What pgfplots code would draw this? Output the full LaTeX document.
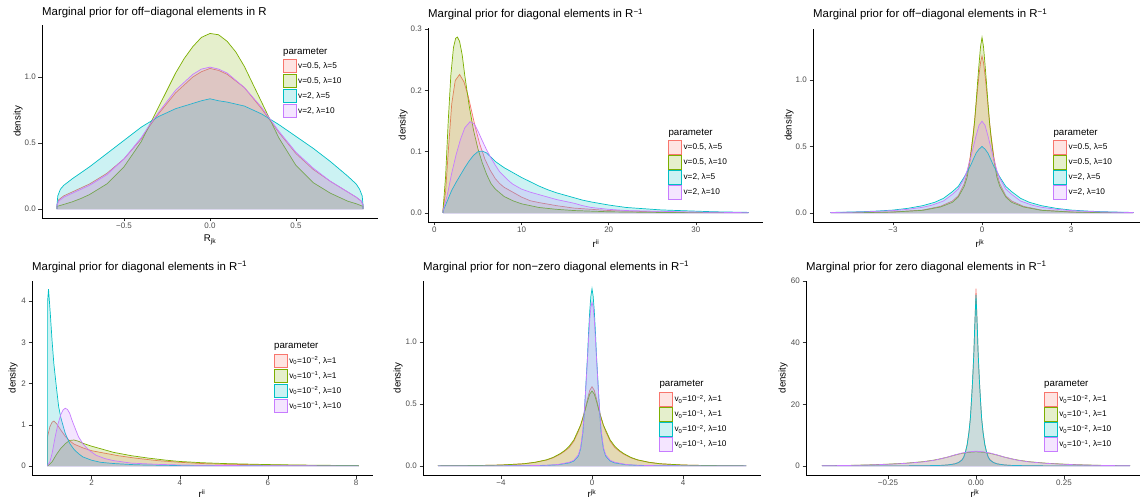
\documentclass[border=0pt]{standalone}
\usepackage{fontspec}
\setmainfont{Liberation Sans}
\usepackage{pgfplots}
\usepackage{pgfplotstable}
\pgfplotsset{compat=1.18}
\definecolor{cR}{HTML}{F8766D}
\definecolor{cG}{HTML}{7CAE00}
\definecolor{cC}{HTML}{00BFC4}
\definecolor{cP}{HTML}{C77CFF}
\definecolor{basecol}{HTML}{DCD8EE}
\definecolor{tickgray}{HTML}{4D4D4D}
\definecolor{tickdark}{HTML}{333333}
\newcommand{\ttl}{\fontsize{11.4}{13}\selectfont}
\newcommand{\lab}{\fontsize{9.7}{11}\selectfont}
\pgfplotsset{
  gg/.style={
    scale only axis, anchor=south west,
    axis lines*=left,
    axis line style={black, line width=0.6pt},
    every tick/.style={tickdark, line width=0.5pt},
    tick align=outside, major tick length=3.5pt,
    tick label style={font=\fontsize{8}{9}\selectfont, text=tickgray},
    xticklabel style={anchor=north, inner sep=1pt},
    yticklabel style={anchor=east, inner sep=2.5pt},
    legend style={draw=none, fill=none, inner sep=0pt, outer sep=0pt, anchor=north west,
      font=\fontsize{8.3}{10}\selectfont, column sep=1.5pt, row sep=0pt,
      nodes={inner sep=0pt, minimum height=15pt}},
    legend cell align=left,
    legend image code/.code={\draw[##1, line width=0.7pt] (0.7pt,-6.8pt) rectangle (13.8pt,6.8pt);},
  },
  d/.style={line width=0.7pt, fill opacity=0.2, draw=#1, fill=#1},
}
\newcommand{\dens}[2]{%
  \addplot[fill=#1, fill opacity=0.2, draw=none, forget plot] table[x=x,y=y] {#2} \closedcycle;
  \addplot[draw=#1, line width=0.7pt, forget plot] table[x=x,y=y] {#2};
}
% ---------- Panel A: off-diagonal elements in R
\pgfplotstableread{
x y
-0.89 0
-0.89 0.03
-0.88 0.07
-0.85 0.1
-0.8 0.13
-0.75 0.16
-0.7 0.19
-0.6 0.27
-0.5 0.38
-0.4 0.53
-0.35 0.63
-0.3 0.72
-0.2 0.88
-0.1 1.0
-0.05 1.04
0 1.065
0.05 1.05
0.1 1.02
0.2 0.92
0.3 0.76
0.35 0.67
0.4 0.58
0.5 0.42
0.6 0.3
0.7 0.21
0.75 0.17
0.8 0.13
0.85 0.09
0.88 0.06
0.89 0.03
0.89 0
}\Ar
\pgfplotstableread{
x y
-0.89 0
-0.89 0.02
-0.85 0.035
-0.8 0.055
-0.75 0.08
-0.7 0.11
-0.6 0.19
-0.5 0.32
-0.4 0.51
-0.3 0.77
-0.2 1.03
-0.15 1.14
-0.1 1.23
-0.05 1.3
0 1.33
0.05 1.32
0.1 1.27
0.15 1.19
0.2 1.08
0.3 0.81
0.4 0.54
0.5 0.33
0.6 0.2
0.7 0.12
0.75 0.09
0.8 0.06
0.85 0.04
0.89 0.02
0.89 0
}\Ag
\pgfplotstableread{
x y
-0.89 0
-0.89 0.03
-0.885 0.1
-0.87 0.15
-0.85 0.18
-0.8 0.23
-0.7 0.32
-0.6 0.42
-0.5 0.52
-0.4 0.62
-0.3 0.7
-0.2 0.76
-0.1 0.8
-0.05 0.82
0 0.835
0.05 0.82
0.1 0.81
0.2 0.78
0.3 0.72
0.4 0.64
0.5 0.55
0.6 0.46
0.7 0.36
0.8 0.25
0.85 0.19
0.87 0.15
0.885 0.1
0.89 0.03
0.89 0
}\Ac
\pgfplotstableread{
x y
-0.89 0
-0.89 0.03
-0.88 0.06
-0.85 0.09
-0.8 0.12
-0.75 0.15
-0.7 0.18
-0.6 0.26
-0.5 0.38
-0.4 0.54
-0.35 0.64
-0.3 0.73
-0.2 0.9
-0.1 1.02
-0.05 1.06
0 1.075
0.05 1.06
0.1 1.03
0.2 0.92
0.3 0.77
0.35 0.68
0.4 0.59
0.5 0.43
0.6 0.31
0.7 0.21
0.75 0.17
0.8 0.13
0.85 0.09
0.88 0.06
0.89 0.03
0.89 0
}\Ap
% ---------- Panel B: diagonal elements in R^-1
\pgfplotstableread{
x y
1.0 0
1.0 0.004
1.3 0.035
1.6 0.1
2.0 0.178
2.4 0.216
2.9 0.226
3.4 0.214
3.9 0.19
4.3 0.165
4.7 0.14
5.2 0.113
5.8 0.088
6.4 0.07
7.0 0.056
7.5 0.048
8.0 0.042
9.0 0.034
10 0.026
11 0.02
12 0.017
14 0.012
16 0.008
18 0.006
20 0.004
25 0.002
30 0.001
36 0.0005
36 0
}\Br
\pgfplotstableread{
x y
1.0 0
1.0 0.005
1.3 0.06
1.6 0.15
1.9 0.225
2.2 0.27
2.45 0.285
2.65 0.287
2.9 0.28
3.2 0.258
3.5 0.224
4.0 0.175
4.5 0.135
5.0 0.105
5.5 0.082
6.0 0.063
6.5 0.048
7.0 0.039
7.5 0.033
8.0 0.027
9.0 0.02
10 0.015
11 0.012
12 0.009
14 0.006
16 0.004
20 0.002
25 0.001
30 0.0005
36 0.0002
36 0
}\Bg
\pgfplotstableread{
x y
1.0 0
1.0 0.003
1.5 0.02
2.0 0.037
2.5 0.05
3.0 0.062
3.5 0.074
4.0 0.085
4.5 0.094
5.0 0.1
5.5 0.101
6.0 0.098
6.5 0.091
7.0 0.084
7.5 0.079
8.0 0.074
9.0 0.066
10 0.058
11 0.051
12 0.044
13 0.038
14 0.033
15 0.029
16 0.025
17 0.021
18 0.018
20 0.013
22 0.009
24 0.007
26 0.005
28 0.004
30 0.003
32 0.002
34 0.0015
36 0.001
36 0
}\Bc
\pgfplotstableread{
x y
1.0 0
1.0 0.003
1.5 0.03
2.0 0.065
2.5 0.095
3.0 0.12
3.5 0.139
4.1 0.149
4.6 0.145
5.0 0.134
5.5 0.118
6.0 0.103
6.5 0.09
7.0 0.078
7.5 0.067
8.0 0.06
8.5 0.053
9.0 0.047
10 0.039
11 0.034
12 0.03
13 0.026
14 0.022
15 0.019
16 0.016
17 0.012
18 0.009
20 0.006
22 0.004
25 0.003
30 0.0015
36 0.0005
36 0
}\Bp
% ---------- Panel C: off-diagonal elements in R^-1
\pgfplotstableread{
x y
-5.1 0
-5.1 0.001
-4 0.004
-3 0.008
-2 0.022
-1.4 0.05
-1 0.09
-0.8 0.13
-0.6 0.22
-0.5 0.3
-0.4 0.42
-0.3 0.59
-0.25 0.69
-0.2 0.81
-0.15 0.93
-0.1 1.04
-0.05 1.13
0 1.18
0.05 1.13
0.1 1.04
0.15 0.93
0.2 0.81
0.25 0.69
0.3 0.59
0.4 0.42
0.5 0.3
0.6 0.22
0.8 0.13
1 0.09
1.4 0.05
2 0.022
3 0.008
4 0.004
5.1 0.001
5.1 0
}\Cr
\pgfplotstableread{
x y
-5.1 0
-5.1 0.001
-4 0.003
-3 0.007
-2 0.02
-1.4 0.045
-1 0.08
-0.8 0.12
-0.6 0.2
-0.5 0.27
-0.4 0.4
-0.3 0.58
-0.25 0.69
-0.2 0.83
-0.15 0.98
-0.1 1.12
-0.05 1.25
0 1.32
0.05 1.25
0.1 1.12
0.15 0.98
0.2 0.83
0.25 0.69
0.3 0.58
0.4 0.4
0.5 0.27
0.6 0.2
0.8 0.12
1 0.08
1.4 0.045
2 0.02
3 0.007
4 0.003
5.1 0.001
5.1 0
}\Cg
\pgfplotstableread{
x y
-5.1 0
-5.1 0.004
-4.5 0.007
-4 0.01
-3.5 0.015
-3 0.022
-2.5 0.035
-2 0.055
-1.6 0.08
-1.3 0.11
-1 0.16
-0.8 0.2
-0.6 0.27
-0.5 0.31
-0.4 0.35
-0.3 0.4
-0.2 0.45
-0.1 0.48
0 0.5
0.1 0.48
0.2 0.45
0.3 0.4
0.4 0.35
0.5 0.31
0.6 0.27
0.8 0.2
1 0.16
1.3 0.11
1.6 0.08
2 0.055
2.5 0.035
3 0.022
3.5 0.015
4 0.01
4.5 0.007
5.1 0.004
5.1 0
}\Cc
\pgfplotstableread{
x y
-5.1 0
-5.1 0.003
-4 0.008
-3 0.018
-2.5 0.028
-2 0.043
-1.7 0.058
-1.3 0.09
-1 0.14
-0.8 0.18
-0.6 0.26
-0.5 0.32
-0.4 0.4
-0.3 0.49
-0.2 0.58
-0.1 0.66
0 0.69
0.1 0.66
0.2 0.58
0.3 0.49
0.4 0.4
0.5 0.32
0.6 0.26
0.8 0.18
1 0.14
1.3 0.09
1.7 0.058
2 0.043
2.5 0.028
3 0.018
4 0.008
5.1 0.003
5.1 0
}\Cp
% ---------- Panel D: diagonal elements in R^-1 (v0, lambda)
\pgfplotstableread{
x y
1.0 0
1.0 0.72
1.05 0.95
1.1 1.06
1.14 1.09
1.2 1.03
1.25 0.95
1.3 0.87
1.4 0.72
1.5 0.61
1.6 0.53
1.8 0.44
2.0 0.37
2.3 0.31
2.6 0.25
3.0 0.19
3.5 0.13
4.0 0.09
4.5 0.06
5 0.045
6 0.025
7 0.015
8.05 0.01
8.05 0
}\Dr
\pgfplotstableread{
x y
1.0 0
1.1 0.1
1.2 0.28
1.3 0.43
1.4 0.54
1.5 0.62
1.6 0.63
1.7 0.6
1.8 0.55
2.0 0.48
2.2 0.42
2.5 0.33
2.9 0.25
3.3 0.19
3.7 0.14
4.0 0.11
4.5 0.08
5 0.06
6 0.035
7 0.02
8.05 0.01
8.05 0
}\Dg
\pgfplotstableread{
x y
1.0 0
1.0 4.0
1.02 4.29
1.06 3.7
1.1 3.05
1.14 2.49
1.2 1.9
1.25 1.44
1.3 1.17
1.4 0.79
1.5 0.55
1.6 0.4
1.7 0.3
1.8 0.22
2.0 0.14
2.2 0.09
2.5 0.06
3 0.03
4 0.01
5 0.005
8.05 0.001
8.05 0
}\Dc
\pgfplotstableread{
x y
1.0 0
1.0 0.02
1.05 0.1
1.1 0.3
1.17 0.7
1.23 1.0
1.3 1.25
1.35 1.36
1.4 1.40
1.45 1.37
1.5 1.28
1.55 1.12
1.6 0.98
1.7 0.71
1.8 0.54
1.93 0.39
2.1 0.26
2.3 0.18
2.5 0.13
2.9 0.07
3.5 0.04
4 0.025
5 0.012
6 0.006
8.05 0.002
8.05 0
}\Dp
% ---------- Panel E: non-zero elements
\pgfplotstableread{
x y
-6.77 0
-6.77 0.001
-5 0.004
-4 0.008
-3 0.018
-2.5 0.03
-2 0.048
-1.7 0.067
-1.4 0.095
-1.2 0.12
-1 0.15
-0.8 0.2
-0.6 0.28
-0.5 0.33
-0.4 0.39
-0.3 0.46
-0.2 0.54
-0.1 0.61
0 0.64
0.1 0.61
0.2 0.54
0.3 0.46
0.4 0.39
0.5 0.33
0.6 0.28
0.8 0.2
1 0.15
1.2 0.12
1.4 0.095
1.7 0.067
2 0.048
2.5 0.03
3 0.018
4 0.008
5 0.004
6.77 0.001
6.77 0
}\Er
\pgfplotstableread{
x y
-6.77 0
-6.77 0.001
-5 0.004
-4 0.008
-3 0.018
-2.5 0.03
-2 0.05
-1.7 0.07
-1.4 0.1
-1.2 0.125
-1 0.16
-0.8 0.21
-0.6 0.29
-0.5 0.33
-0.4 0.39
-0.3 0.45
-0.2 0.52
-0.1 0.58
0 0.605
0.1 0.58
0.2 0.52
0.3 0.45
0.4 0.39
0.5 0.33
0.6 0.29
0.8 0.21
1 0.16
1.2 0.125
1.4 0.1
1.7 0.07
2 0.05
2.5 0.03
3 0.018
4 0.008
5 0.004
6.77 0.001
6.77 0
}\Eg
\pgfplotstableread{
x y
-6.77 0
-4 0.001
-3 0.002
-2 0.005
-1.5 0.01
-1 0.025
-0.8 0.04
-0.6 0.08
-0.5 0.14
-0.4 0.27
-0.35 0.4
-0.3 0.55
-0.25 0.72
-0.2 0.88
-0.15 1.08
-0.1 1.25
-0.05 1.37
0 1.43
0.05 1.37
0.1 1.25
0.15 1.08
0.2 0.88
0.25 0.72
0.3 0.55
0.35 0.4
0.4 0.27
0.5 0.14
0.6 0.08
0.8 0.04
1 0.025
1.5 0.01
2 0.005
3 0.002
4 0.001
6.77 0
}\Ec
\pgfplotstableread{
x y
-6.77 0
-4 0.001
-3 0.002
-2 0.006
-1.5 0.012
-1 0.03
-0.8 0.045
-0.6 0.09
-0.5 0.15
-0.4 0.29
-0.35 0.41
-0.3 0.55
-0.25 0.7
-0.2 0.86
-0.15 1.03
-0.1 1.18
-0.05 1.28
0 1.32
0.05 1.28
0.1 1.18
0.15 1.03
0.2 0.86
0.25 0.7
0.3 0.55
0.35 0.41
0.4 0.29
0.5 0.15
0.6 0.09
0.8 0.045
1 0.03
1.5 0.012
2 0.006
3 0.002
4 0.001
6.77 0
}\Ep
% ---------- Panel F: zero elements
\pgfplotstableread{
x y
-0.437 0
-0.437 0.002
-0.3 0.01
-0.2 0.04
-0.15 0.08
-0.1 0.2
-0.08 0.35
-0.06 0.7
-0.05 1.1
-0.04 2.0
-0.035 2.9
-0.03 4.5
-0.025 7
-0.02 11
-0.016 15.5
-0.013 21
-0.01 27
-0.008 31.5
-0.006 37
-0.004 43.5
-0.002 50.5
0 57.5
0.002 50.5
0.004 43.5
0.006 37
0.008 31.5
0.01 27
0.013 21
0.016 15.5
0.02 11
0.025 7
0.03 4.5
0.035 2.9
0.04 2.0
0.05 1.1
0.06 0.7
0.08 0.35
0.1 0.2
0.15 0.08
0.2 0.04
0.3 0.01
0.437 0.002
0.437 0
}\Fr
\pgfplotstableread{
x y
-0.437 0
-0.437 0.09
-0.4 0.13
-0.35 0.22
-0.3 0.38
-0.25 0.6
-0.2 0.9
-0.15 1.4
-0.12 1.9
-0.1 2.35
-0.08 2.9
-0.06 3.55
-0.04 4.1
-0.02 4.45
0 4.6
0.02 4.45
0.04 4.1
0.06 3.55
0.08 2.9
0.1 2.35
0.12 1.9
0.15 1.4
0.2 0.9
0.25 0.6
0.3 0.38
0.35 0.22
0.4 0.13
0.437 0.09
0.437 0
}\Fg
\pgfplotstableread{
x y
-0.437 0
-0.437 0.002
-0.3 0.01
-0.2 0.04
-0.15 0.08
-0.1 0.2
-0.08 0.35
-0.06 0.7
-0.05 1.1
-0.04 1.9
-0.035 2.8
-0.03 4.5
-0.025 7
-0.02 11
-0.016 15.5
-0.013 21
-0.01 27
-0.008 32
-0.006 37
-0.004 44
-0.002 50
0 55.5
0.002 50
0.004 44
0.006 37
0.008 32
0.01 27
0.013 21
0.016 15.5
0.02 11
0.025 7
0.03 4.5
0.035 2.8
0.04 1.9
0.05 1.1
0.06 0.7
0.08 0.35
0.1 0.2
0.15 0.08
0.2 0.04
0.3 0.01
0.437 0.002
0.437 0
}\Fc
\pgfplotstableread{
x y
-0.437 0
-0.437 0.08
-0.4 0.12
-0.35 0.2
-0.3 0.35
-0.25 0.55
-0.2 0.85
-0.15 1.35
-0.12 1.85
-0.1 2.35
-0.08 2.9
-0.06 3.6
-0.04 4.2
-0.02 4.6
0 4.8
0.02 4.6
0.04 4.2
0.06 3.6
0.08 2.9
0.1 2.35
0.12 1.85
0.15 1.35
0.2 0.85
0.25 0.55
0.3 0.35
0.35 0.2
0.4 0.12
0.437 0.08
0.437 0
}\Fp
\begin{document}
\begin{tikzpicture}
\useasboundingbox (0,0) rectangle (1140pt,498pt);
% ---------------- Panel 1
\begin{axis}[gg, at={(42pt,280pt)}, width=336pt, height=193pt,
  xmin=-0.977, xmax=0.977, ymin=-0.068, ymax=1.394,
  xtick={-0.5,0,0.5}, xticklabels={−0.5,0.0,0.5},
  ytick={0,0.5,1}, yticklabels={0.0,0.5,1.0},
  legend style={at={(0.717,0.8275)}}]
\dens{cR}{\Ar}\dens{cG}{\Ag}\dens{cC}{\Ac}\dens{cP}{\Ap}
\addplot[draw=basecol, line width=0.8pt, forget plot] coordinates {(-0.89,0) (0.89,0)};
\addlegendimage{d=cR}\addlegendentry{v=0.5, λ=5}
\addlegendimage{d=cG}\addlegendentry{v=0.5, λ=10}
\addlegendimage{d=cC}\addlegendentry{v=2, λ=5}
\addlegendimage{d=cP}\addlegendentry{v=2, λ=10}
\end{axis}
% ---------------- Panel 2
\begin{axis}[gg, at={(428pt,276pt)}, width=335pt, height=194pt,
  xmin=-0.72, xmax=37.69, ymin=-0.0147, ymax=0.3018,
  xtick={0,10,20,30}, xticklabels={0,10,20,30},
  ytick={0,0.1,0.2,0.3}, yticklabels={0.0,0.1,0.2,0.3},
  legend style={at={(0.717,0.4227)}}]
\dens{cR}{\Br}\dens{cG}{\Bg}\dens{cC}{\Bc}\dens{cP}{\Bp}
\addplot[draw=basecol, line width=0.8pt, forget plot] coordinates {(1,0) (36,0)};
\addlegendimage{d=cR}\addlegendentry{v=0.5, λ=5}
\addlegendimage{d=cG}\addlegendentry{v=0.5, λ=10}
\addlegendimage{d=cC}\addlegendentry{v=2, λ=5}
\addlegendimage{d=cP}\addlegendentry{v=2, λ=10}
\end{axis}
% ---------------- Panel 3
\begin{axis}[gg, at={(813pt,276pt)}, width=327pt, height=193pt,
  xmin=-5.696, xmax=5.325, ymin=-0.0677, ymax=1.383,
  xtick={-3,0,3}, xticklabels={−3,0,3},
  ytick={0,0.5,1}, yticklabels={0.0,0.5,1.0},
  legend style={at={(0.735,0.425)}}]
\dens{cR}{\Cr}\dens{cG}{\Cg}\dens{cC}{\Cc}\dens{cP}{\Cp}
\addplot[draw=basecol, line width=0.8pt, forget plot] coordinates {(-5.1,0) (5.1,0)};
\addlegendimage{d=cR}\addlegendentry{v=0.5, λ=5}
\addlegendimage{d=cG}\addlegendentry{v=0.5, λ=10}
\addlegendimage{d=cC}\addlegendentry{v=2, λ=5}
\addlegendimage{d=cP}\addlegendentry{v=2, λ=10}
\end{axis}
% ---------------- Panel 4
\begin{axis}[gg, at={(32pt,23pt)}, width=341pt, height=194pt,
  xmin=0.645, xmax=8.386, ymin=-0.218, ymax=4.485,
  xtick={2,4,6,8}, xticklabels={2,4,6,8},
  ytick={0,1,2,3,4}, yticklabels={0,1,2,3,4},
  legend style={at={(0.7097,0.627)}}]
\dens{cR}{\Dr}\dens{cG}{\Dg}\dens{cC}{\Dc}\dens{cP}{\Dp}
\addplot[draw=basecol, line width=0.8pt, forget plot] coordinates {(1,0) (8.05,0)};
\addlegendimage{d=cR}\addlegendentry{v\textsubscript{0}=10\textsuperscript{−2}, λ=1}
\addlegendimage{d=cG}\addlegendentry{v\textsubscript{0}=10\textsuperscript{−1}, λ=1}
\addlegendimage{d=cC}\addlegendentry{v\textsubscript{0}=10\textsuperscript{−2}, λ=10}
\addlegendimage{d=cP}\addlegendentry{v\textsubscript{0}=10\textsuperscript{−1}, λ=10}
\end{axis}
% ---------------- Panel 5
\begin{axis}[gg, at={(423pt,23pt)}, width=338pt, height=194pt,
  xmin=-7.43, xmax=7.43, ymin=-0.0726, ymax=1.492,
  xtick={-4,0,4}, xticklabels={−4,0,4},
  ytick={0,0.5,1}, yticklabels={0.0,0.5,1.0},
  legend style={at={(0.699,0.429)}}]
\dens{cR}{\Er}\dens{cG}{\Eg}\dens{cC}{\Ec}\dens{cP}{\Ep}
\addplot[draw=basecol, line width=0.8pt, forget plot] coordinates {(-6.77,0) (6.77,0)};
\addlegendimage{d=cR}\addlegendentry{v\textsubscript{0}=10\textsuperscript{−2}, λ=1}
\addlegendimage{d=cG}\addlegendentry{v\textsubscript{0}=10\textsuperscript{−1}, λ=1}
\addlegendimage{d=cC}\addlegendentry{v\textsubscript{0}=10\textsuperscript{−2}, λ=10}
\addlegendimage{d=cP}\addlegendentry{v\textsubscript{0}=10\textsuperscript{−1}, λ=10}
\end{axis}
% ---------------- Panel 6
\begin{axis}[gg, at={(806pt,23pt)}, width=334pt, height=194pt,
  xmin=-0.483, xmax=0.466, ymin=-2.92, ymax=60.0,
  xtick={-0.25,0,0.25}, xticklabels={−0.25,0.00,0.25},
  ytick={0,20,40,60}, yticklabels={0,20,40,60},
  legend style={at={(0.7126,0.429)}}]
\dens{cR}{\Fr}\dens{cG}{\Fg}\dens{cC}{\Fc}\dens{cP}{\Fp}
\addplot[draw=basecol, line width=0.8pt, forget plot] coordinates {(-0.437,0) (0.437,0)};
\addlegendimage{d=cR}\addlegendentry{v\textsubscript{0}=10\textsuperscript{−2}, λ=1}
\addlegendimage{d=cG}\addlegendentry{v\textsubscript{0}=10\textsuperscript{−1}, λ=1}
\addlegendimage{d=cC}\addlegendentry{v\textsubscript{0}=10\textsuperscript{−2}, λ=10}
\addlegendimage{d=cP}\addlegendentry{v\textsubscript{0}=10\textsuperscript{−1}, λ=10}
\end{axis}
% ---------------- titles and labels
\node[anchor=base west, font=\ttl, inner sep=0pt] at (42pt,482.2pt) {Marginal prior for off−diagonal elements in R};
\node[anchor=base west, font=\ttl, inner sep=0pt] at (428pt,480pt) {Marginal prior for diagonal elements in R\textsuperscript{−1}};
\node[anchor=base west, font=\ttl, inner sep=0pt] at (813pt,480pt) {Marginal prior for off−diagonal elements in R\textsuperscript{−1}};
\node[anchor=base west, font=\ttl, inner sep=0pt] at (32pt,227.5pt) {Marginal prior for diagonal elements in R\textsuperscript{−1}};
\node[anchor=base west, font=\ttl, inner sep=0pt] at (423pt,227.5pt) {Marginal prior for non−zero diagonal elements in R\textsuperscript{−1}};
\node[anchor=base west, font=\ttl, inner sep=0pt] at (806pt,227.5pt) {Marginal prior for zero diagonal elements in R\textsuperscript{−1}};
% y labels
\node[rotate=90, font=\lab, inner sep=0pt] at (18pt,376.5pt) {density};
\node[rotate=90, font=\lab, inner sep=0pt] at (403pt,373pt) {density};
\node[rotate=90, font=\lab, inner sep=0pt] at (789pt,372.5pt) {density};
\node[rotate=90, font=\lab, inner sep=0pt] at (13pt,120pt) {density};
\node[rotate=90, font=\lab, inner sep=0pt] at (398pt,120pt) {density};
\node[rotate=90, font=\lab, inner sep=0pt] at (783pt,120pt) {density};
% x labels
\node[anchor=base, font=\lab, inner sep=0pt] at (210pt,256.3pt) {R\textsubscript{jk}};
\node[anchor=base, font=\lab, inner sep=0pt] at (596pt,250pt) {r\textsuperscript{ii}};
\node[anchor=base, font=\lab, inner sep=0pt] at (980pt,250pt) {r\textsuperscript{jk}};
\node[anchor=base, font=\lab, inner sep=0pt] at (202pt,0.2pt) {r\textsuperscript{ii}};
\node[anchor=base, font=\lab, inner sep=0pt] at (592pt,0.2pt) {r\textsuperscript{jk}};
\node[anchor=base, font=\lab, inner sep=0pt] at (975pt,0.2pt) {r\textsuperscript{jk}};
% legend titles
\node[anchor=base west, font=\lab, inner sep=0pt] at (283pt,443.5pt) {parameter};
\node[anchor=base west, font=\lab, inner sep=0pt] at (668.3pt,362.5pt) {parameter};
\node[anchor=base west, font=\lab, inner sep=0pt] at (1053.3pt,362.5pt) {parameter};
\node[anchor=base west, font=\lab, inner sep=0pt] at (274pt,149pt) {parameter};
\node[anchor=base west, font=\lab, inner sep=0pt] at (659.3pt,111pt) {parameter};
\node[anchor=base west, font=\lab, inner sep=0pt] at (1044pt,111pt) {parameter};
\end{tikzpicture}
\end{document}
